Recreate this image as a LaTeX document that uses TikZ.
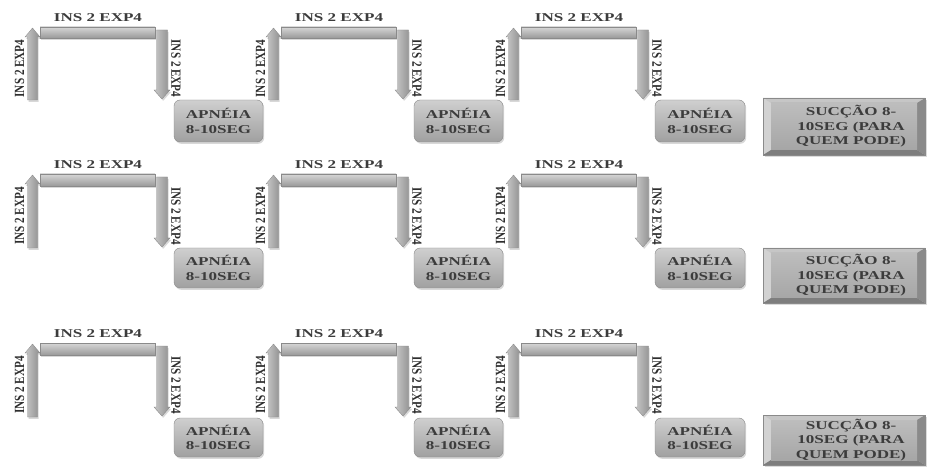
\documentclass[tikz,border=0pt]{standalone}
\usepackage{fontspec}
\newfontfamily\lblfont{Liberation Serif}[FakeStretch=1.42]
\newfontfamily\rotfont{Liberation Serif}[FakeStretch=0.8]
\usetikzlibrary{shadows,calc}
\definecolor{txtgray}{HTML}{3C3C3C}
\definecolor{txtdark}{HTML}{2E2E2E}
\definecolor{bartop}{HTML}{D6D6D6}
\definecolor{barbot}{HTML}{9A9A9A}
\definecolor{arrl}{HTML}{C8C8C8}
\definecolor{arrr}{HTML}{8E8E8E}
\definecolor{boxtop}{HTML}{CFCFCF}
\definecolor{boxbot}{HTML}{A0A0A0}
\definecolor{boxedge}{HTML}{8A8A8A}
\definecolor{bvlight}{HTML}{D2D2D2}
\definecolor{bvtop}{HTML}{C6C6C6}
\definecolor{bvdark}{HTML}{8A8A8A}
\definecolor{bvbot}{HTML}{7E7E7E}
\definecolor{facetop}{HTML}{BDBDBD}
\definecolor{facebot}{HTML}{A6A6A6}
\begin{document}
\begin{tikzpicture}[x=1pt,y=-1pt,
  lbl/.style={font=\lblfont\bfseries\fontsize{12}{14.5}\selectfont, text=txtgray, inner sep=0pt},
  rlbl/.style={font=\rotfont\bfseries\fontsize{14}{15}\selectfont, text=txtdark, inner sep=0pt},
  softshadow/.style={drop shadow={opacity=0.3, shadow xshift=1.2pt, shadow yshift=-1.8pt}},
  barshape/.style={top color=bartop, bottom color=barbot, draw=boxedge, line width=0.3pt, softshadow},
  arrshape/.style={left color=arrl, right color=arrr, draw=boxedge, line width=0.3pt, softshadow},
  apbox/.style={lbl, rounded corners=6pt, draw=boxedge, line width=0.4pt, top color=boxtop, bottom color=boxbot, align=center, softshadow},
  sucface/.style={lbl, align=center}
]
\useasboundingbox (0,0) rectangle (929,470);
\fill[white] (0,0) rectangle (929,470);

\foreach \r/\bt/\bb/\ab/\bxt/\bxb/\st/\sb in {1/27/38/100/100/142/98/155, 2/174/186/248/248/288/248/303, 3/343/355/417/418/457/415/465}{
  \foreach \c/\L/\R/\Ax/\Bx in {1/27/156/174/263, 2/268/397/414/503, 3/508/637/655/745}{
    % left up arrow
    \path[arrshape] (\L+0.5,\ab) -- (\L+0.5,\bt+10) -- (\L-2,\bt+10) -- (\L+5.5,\bt+1)
        -- (\L+13,\bt+10) -- (\L+10.5,\bt+10) -- (\L+10.5,\ab) -- cycle;
    % top bar
    \path[barshape] (\L+13,\bt) rectangle (\R-1,\bb);
    % right down arrow
    \path[arrshape] (\R+0.5,\bt+3) -- (\R+11.5,\bt+3) -- (\R+11.5,\ab-10) -- (\R+14,\ab-10)
        -- (\R+6,\ab-1) -- (\R-2,\ab-10) -- (\R+0.5,\ab-10) -- cycle;
    % labels
    \node[lbl] (top-\r-\c) at ({(\L+13+\R)/2},{\bt-9}) {INS 2 EXP4};
    \node[rlbl, rotate=90] (up-\r-\c) at ({\L-7.5},{(\bt+10+\ab)/2}) {INS 2 EXP4};
    \node[rlbl, rotate=-90] (down-\r-\c) at ({\R+20},{(\bt+10+\ab)/2}) {INS 2 EXP4};
    % apnea box
    \node[apbox, minimum width={(\Bx-\Ax)*1pt}, minimum height={(\bxb-\bxt)*1pt}]
        (ap-\r-\c) at ({(\Ax+\Bx)/2},{(\bxt+\bxb)/2}) {APNÉIA\\8-10SEG};
  }
  % suction bevel box
  \fill[boxedge, opacity=0.3] (764.5,\st+2) rectangle (926.5,\sb+2);
  \fill[bvlight] (763,\st) -- (771,\st+5) -- (771,\sb-5) -- (763,\sb) -- cycle;
  \fill[bvtop] (763,\st) -- (925,\st) -- (917,\st+5) -- (771,\st+5) -- cycle;
  \fill[bvdark] (925,\st) -- (925,\sb) -- (917,\sb-5) -- (917,\st+5) -- cycle;
  \fill[bvbot] (763,\sb) -- (771,\sb-5) -- (917,\sb-5) -- (925,\sb) -- cycle;
  \shade[top color=facetop, bottom color=facebot] (771,\st+5) rectangle (917,\sb-5);
  \draw[boxedge, line width=0.4pt] (763,\st) rectangle (925,\sb);
  \node[sucface] (suc-\r) at (851,{(\st+\sb)/2}) {SUCÇÃO 8-\\10SEG (PARA\\QUEM PODE)};
}
\end{tikzpicture}
\end{document}
